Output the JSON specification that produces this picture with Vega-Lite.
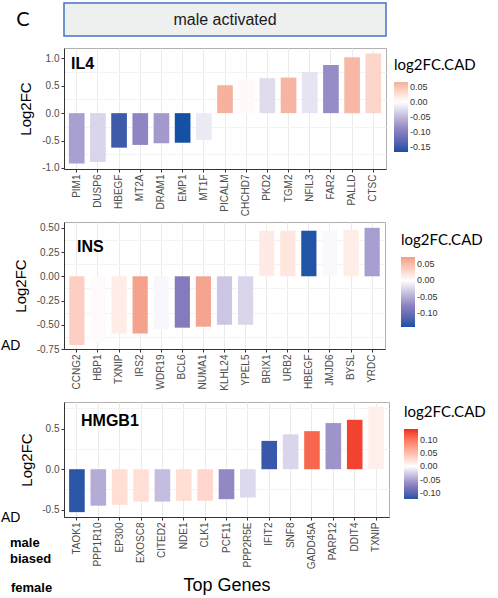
{
  "$schema": "https://vega.github.io/schema/vega-lite/v6.json",
  "padding": {"left": 0, "top": 1, "right": 0, "bottom": 0},
  "background": "white",
  "datasets": {
    "il4": [
      {"gene": "PIM1", "lfc": -0.92, "cad": -0.07},
      {"gene": "DUSP6", "lfc": -0.89, "cad": -0.03},
      {"gene": "HBEGF", "lfc": -0.63, "cad": -0.15},
      {"gene": "MT2A", "lfc": -0.58, "cad": -0.09},
      {"gene": "DRAM1", "lfc": -0.55, "cad": -0.075},
      {"gene": "EMP1", "lfc": -0.54, "cad": -0.167},
      {"gene": "MT1F", "lfc": -0.49, "cad": -0.015},
      {"gene": "PICALM", "lfc": 0.51, "cad": 0.065},
      {"gene": "CHCHD7", "lfc": 0.61, "cad": 0.005},
      {"gene": "PKD2", "lfc": 0.64, "cad": -0.025},
      {"gene": "TGM2", "lfc": 0.65, "cad": 0.063},
      {"gene": "NFIL3", "lfc": 0.75, "cad": -0.02},
      {"gene": "FAR2", "lfc": 0.88, "cad": -0.085},
      {"gene": "PALLD", "lfc": 1.02, "cad": 0.06},
      {"gene": "CTSC", "lfc": 1.09, "cad": 0.035}
    ],
    "ins": [
      {"gene": "CCNG2", "lfc": -0.71, "cad": 0.035},
      {"gene": "HBP1", "lfc": -0.68, "cad": 0.003},
      {"gene": "TXNIP", "lfc": -0.59, "cad": 0.014},
      {"gene": "IRS2", "lfc": -0.59, "cad": 0.068},
      {"gene": "WDR19", "lfc": -0.55, "cad": -0.005},
      {"gene": "BCL6", "lfc": -0.53, "cad": -0.085},
      {"gene": "NUMA1", "lfc": -0.52, "cad": 0.066},
      {"gene": "KLHL24", "lfc": -0.5, "cad": -0.035},
      {"gene": "YPEL5", "lfc": -0.5, "cad": -0.025},
      {"gene": "BRIX1", "lfc": 0.47, "cad": 0.015},
      {"gene": "URB2", "lfc": 0.47, "cad": 0.018},
      {"gene": "HBEGF", "lfc": 0.47, "cad": -0.14},
      {"gene": "JMJD6", "lfc": 0.47, "cad": -0.004},
      {"gene": "BYSL", "lfc": 0.48, "cad": 0.013},
      {"gene": "YRDC", "lfc": 0.5, "cad": -0.06}
    ],
    "hmgb1": [
      {"gene": "TAOK1", "lfc": -0.53, "cad": -0.12},
      {"gene": "PPP1R10", "lfc": -0.45, "cad": -0.045},
      {"gene": "EP300", "lfc": -0.44, "cad": 0.025},
      {"gene": "EXOSC8", "lfc": -0.4, "cad": 0.024},
      {"gene": "CITED2", "lfc": -0.4, "cad": -0.035},
      {"gene": "NDE1", "lfc": -0.39, "cad": 0.025},
      {"gene": "CLK1", "lfc": -0.39, "cad": 0.03},
      {"gene": "PCF11", "lfc": -0.37, "cad": -0.065},
      {"gene": "PPP2R5E", "lfc": -0.35, "cad": -0.02},
      {"gene": "IFIT2", "lfc": 0.35, "cad": -0.115},
      {"gene": "SNF8", "lfc": 0.43, "cad": -0.022},
      {"gene": "GADD45A", "lfc": 0.47, "cad": 0.11},
      {"gene": "PARP12", "lfc": 0.57, "cad": -0.058},
      {"gene": "DDIT4", "lfc": 0.61, "cad": 0.13},
      {"gene": "TXNIP", "lfc": 0.77, "cad": 0.012}
    ]
  },
  "spacing": 53,
  "bounds": "flush",
  "resolve": {
    "scale": {"color": "independent", "x": "independent", "y": "independent"},
    "legend": {"color": "independent"},
    "axis": {"x": "independent", "y": "independent"}
  },
  "vconcat": [
    {
      "width": 322,
      "height": 121,
      "resolve": {"axis": {"y": "independent"}},
      "layer": [
        {
          "data": {"values": [{"t": "male activated"}]},
          "mark": {"type": "rect", "fill": "#eef0f0", "stroke": "#4472c4", "strokeWidth": 1.5},
          "encoding": {
            "y": {"datum": 2.013, "type": "quantitative", "axis": null},
            "y2": {"datum": 1.41}
          }
        },
        {
          "data": {"values": [{"t": "male activated"}]},
          "mark": {"type": "text", "fontSize": 16, "font": "Liberation Sans", "color": "#1a1a1a", "baseline": "middle"},
          "encoding": {
            "text": {"field": "t"},
            "y": {"datum": 1.7, "type": "quantitative", "axis": null}
          }
        },
        {
          "data": {"values": [{"t": "C"}]},
          "mark": {"type": "text", "fontSize": 20, "font": "Lato", "color": "black", "baseline": "middle", "dx": -202},
          "encoding": {
            "text": {"field": "t"},
            "y": {"datum": 1.7, "type": "quantitative", "axis": null}
          }
        },
        {
          "data": {"values": [{"t": "IL4"}]},
          "mark": {"type": "text", "align": "left", "baseline": "middle", "fontSize": 16, "fontWeight": "bold", "font": "Liberation Sans", "color": "black", "dx": -154},
          "encoding": {
            "text": {"field": "t"},
            "y": {
              "datum": 0.9, "type": "quantitative",
              "axis": {"values": [-0.75, -0.25, 0.25, 0.75], "grid": true, "gridColor": "#f3f3f3", "labels": false, "ticks": false, "domain": false, "title": null, "orient": "left"}
            }
          }
        },
        {
          "data": {"name": "il4"},
          "mark": {"type": "bar"},
          "encoding": {
            "x": {
              "field": "gene", "type": "nominal", "sort": null, "title": null,
              "scale": {"paddingInner": 0.26, "paddingOuter": 0.23},
              "axis": {"labelAngle": -90, "grid": true, "gridColor": "#ebebeb", "bandPosition": 0.5, "tickBand": "center"}
            },
            "y": {
              "field": "lfc", "type": "quantitative", "title": "Log2FC",
              "scale": {"domain": [-1.02, 1.19], "nice": false},
              "axis": {
                "values": [-1, -0.5, 0, 0.5, 1],
                "labelExpr": "replace(format(datum.value, '.1f'), '\u2212', '-')",
                "gridColor": "#e2e2e2",
                "titlePadding": 8,
                "orient": "left"
              }
            },
            "y2": {"datum": 0},
            "color": {
              "field": "cad", "type": "quantitative", "title": "log2FC.CAD",
              "scale": {"domain": [-0.167, -0.095, 0, 0.067], "range": ["#1450a4", "#8a7fbf", "#ffffff", "#f5b09c"], "interpolate": "lab"},
              "legend": {"values": [0.05, 0, -0.05, -0.1, -0.15], "labelExpr": "replace(format(datum.value, '.2f'), '\u2212', '-')", "offset": -2, "padding": 10}
            }
          }
        }
      ]
    },
    {
      "width": 321,
      "height": 127,
      "resolve": {"axis": {"y": "independent"}},
      "layer": [
        {
          "data": {"values": [{"t": "INS"}]},
          "mark": {"type": "text", "align": "left", "baseline": "middle", "fontSize": 16, "fontWeight": "bold", "font": "Liberation Sans", "color": "black", "dx": -147.5},
          "encoding": {
            "text": {"field": "t"},
            "y": {
              "datum": 0.3, "type": "quantitative",
              "axis": {"values": [-0.625, -0.375, -0.125, 0.125, 0.375], "grid": true, "gridColor": "#f3f3f3", "labels": false, "ticks": false, "domain": false, "title": null, "orient": "left"}
            }
          }
        },
        {
          "data": {"values": [{"t": "AD"}]},
          "mark": {"type": "text", "align": "left", "baseline": "middle", "fontSize": 14, "font": "Liberation Sans", "color": "black", "dx": -223.5},
          "encoding": {
            "text": {"field": "t"},
            "y": {"datum": -0.714, "type": "quantitative", "axis": null}
          }
        },
        {
          "data": {"name": "ins"},
          "mark": {"type": "bar"},
          "encoding": {
            "x": {
              "field": "gene", "type": "nominal", "sort": null, "title": null,
              "scale": {"paddingInner": 0.28, "paddingOuter": 0.25},
              "axis": {"labelAngle": -90, "grid": true, "gridColor": "#ebebeb", "bandPosition": 0.5, "tickBand": "center"}
            },
            "y": {
              "field": "lfc", "type": "quantitative", "title": "Log2FC",
              "scale": {"domain": [-0.75, 0.56], "nice": false},
              "axis": {
                "values": [-0.75, -0.5, -0.25, 0, 0.25, 0.5],
                "labelExpr": "replace(format(datum.value, '.2f'), '\u2212', '-')",
                "gridColor": "#e2e2e2",
                "titlePadding": 8,
                "orient": "left"
              }
            },
            "y2": {"datum": 0},
            "color": {
              "field": "cad", "type": "quantitative", "title": "log2FC.CAD",
              "scale": {"domain": [-0.143, -0.08, 0, 0.072], "range": ["#1452a5", "#8a7fbf", "#ffffff", "#f39c85"], "interpolate": "lab"},
              "legend": {"values": [0.05, 0, -0.05, -0.1], "labelExpr": "replace(format(datum.value, '.2f'), '\u2212', '-')", "offset": 5, "padding": 11}
            }
          }
        }
      ]
    },
    {
      "width": 325,
      "height": 115,
      "resolve": {"axis": {"y": "independent"}},
      "layer": [
        {
          "data": {"values": [{"t": "HMGB1"}]},
          "mark": {"type": "text", "align": "left", "baseline": "middle", "fontSize": 16, "fontWeight": "bold", "font": "Liberation Sans", "color": "black", "dx": -145.5},
          "encoding": {
            "text": {"field": "t"},
            "y": {
              "datum": 0.6, "type": "quantitative",
              "axis": {"values": [-0.25, 0.25, 0.75], "grid": true, "gridColor": "#f3f3f3", "labels": false, "ticks": false, "domain": false, "title": null, "orient": "left"}
            }
          }
        },
        {
          "data": {"values": [{"t": "AD"}]},
          "mark": {"type": "text", "align": "left", "baseline": "middle", "fontSize": 14, "font": "Liberation Sans", "color": "black", "dx": -225.5},
          "encoding": {
            "text": {"field": "t"},
            "y": {"datum": -0.607, "type": "quantitative", "axis": null}
          }
        },
        {
          "data": {"values": [{"t": "male"}]},
          "mark": {"type": "text", "align": "left", "baseline": "middle", "fontSize": 13, "fontWeight": "bold", "font": "Liberation Sans", "color": "black", "dx": -216.5},
          "encoding": {
            "text": {"field": "t"},
            "y": {"datum": -0.917, "type": "quantitative", "axis": null}
          }
        },
        {
          "data": {"values": [{"t": "biased"}]},
          "mark": {"type": "text", "align": "left", "baseline": "middle", "fontSize": 13, "fontWeight": "bold", "font": "Liberation Sans", "color": "black", "dx": -216.5},
          "encoding": {
            "text": {"field": "t"},
            "y": {"datum": -1.11, "type": "quantitative", "axis": null}
          }
        },
        {
          "data": {"values": [{"t": "female"}]},
          "mark": {"type": "text", "align": "left", "baseline": "middle", "fontSize": 13, "fontWeight": "bold", "font": "Liberation Sans", "color": "black", "dx": -215.5},
          "encoding": {
            "text": {"field": "t"},
            "y": {"datum": -1.47, "type": "quantitative", "axis": null}
          }
        },
        {
          "data": {"name": "hmgb1"},
          "mark": {"type": "bar"},
          "encoding": {
            "x": {
              "field": "gene", "type": "nominal", "sort": null, "title": "Top  Genes",
              "scale": {"paddingInner": 0.27, "paddingOuter": 0.24},
              "axis": {"labelAngle": -90, "grid": true, "gridColor": "#ebebeb", "bandPosition": 0.5, "tickBand": "center", "titleFontSize": 18, "titlePadding": 8}
            },
            "y": {
              "field": "lfc", "type": "quantitative", "title": "Log2FC",
              "scale": {"domain": [-0.59, 0.83], "nice": false},
              "axis": {
                "values": [-0.5, 0, 0.5],
                "labelExpr": "replace(format(datum.value, '.1f'), '\u2212', '-')",
                "gridColor": "#e2e2e2",
                "titlePadding": 7,
                "orient": "left"
              }
            },
            "y2": {"datum": 0},
            "color": {
              "field": "cad", "type": "quantitative", "title": "log2FC.CAD",
              "scale": {"domain": [-0.122, -0.07, 0, 0.14], "range": ["#2553a5", "#8a7fbf", "#ffffff", "#ec2b21"], "interpolate": "lab"},
              "legend": {"values": [0.1, 0.05, 0, -0.05, -0.1], "labelExpr": "replace(format(datum.value, '.2f'), '\u2212', '-')", "offset": 12, "padding": 3}
            }
          }
        }
      ]
    }
  ],
  "config": {
    "view": {"stroke": "#b0b0b0", "strokeWidth": 1},
    "axis": {
      "labelFont": "Liberation Sans",
      "labelFontSize": 10,
      "labelColor": "#4d4d4d",
      "labelPadding": 2,
      "labelOverlap": false,
      "tickColor": "#333333",
      "tickSize": 3,
      "domainColor": "#333333",
      "titleFont": "Liberation Sans",
      "titleFontSize": 15,
      "titleFontWeight": "normal",
      "titleColor": "black"
    },
    "legend": {
      "gradientLength": 70,
      "gradientThickness": 14,
      "gradientStrokeWidth": 0,
      "titleFont": "Lato",
      "titleFontSize": 15,
      "titleFontWeight": "normal",
      "titleColor": "black",
      "titlePadding": 9,
      "labelFont": "Liberation Sans",
      "labelFontSize": 9,
      "labelColor": "#333333",
      "labelOffset": 5,
      "labelOverlap": false
    }
  }
}
